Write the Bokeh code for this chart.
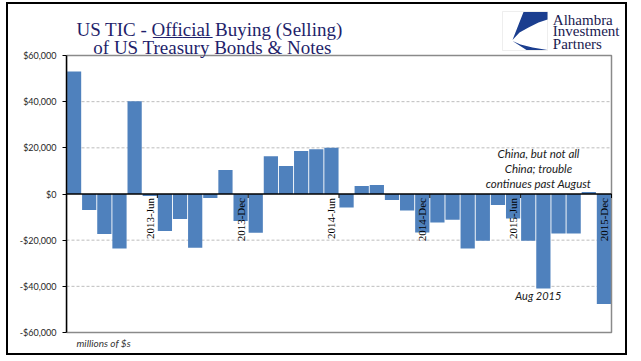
import math
from bokeh.plotting import figure
from bokeh.models import Range1d, FixedTicker, Label, PolyAnnotation
from bokeh.embed import file_html
from bokeh.resources import INLINE
from bokeh.core.properties import value

# ---- data ----
months = [f"{y}-{m}" for y in (2013, 2014, 2015)
          for m in ("Jan", "Feb", "Mar", "Apr", "May", "Jun",
                    "Jul", "Aug", "Sep", "Oct", "Nov", "Dec")]
values = [53100, -6900, -17300, -23600, 40200, -900, -16000, -10800, -23300, -1700,
          10400, -11700, -16800, 16400, 12100, 18600, 19400, 20000, -5900, 3450,
          3900, -2600, -7200, -16700, -12400, -11200, -23600, -20200, -4750, -10650,
          -20200, -40900, -17100, -17100, 860, -47700]
labeled_months = ["2013-Jun", "2013-Dec", "2014-Jun", "2014-Dec", "2015-Jun", "2015-Dec"]
y_ticks = [-60000, -40000, -20000, 0, 20000, 40000, 60000]
y_tick_labels = ["-$60,000", "-$40,000", "-$20,000", "$0", "$20,000", "$40,000", "$60,000"]
title_lines = ["US TIC - Official Buying (Selling)", "of US Treasury Bonds & Notes"]
logo_lines = ["Alhambra", "Investment", "Partners"]
note_lines = ["China, but not all", "China; trouble", "continues past August"]
aug_note = "Aug 2015"
units_note = "millions of $s"

idx = list(range(1, len(months) + 1))
lab_idx = [months.index(m) + 1 for m in labeled_months]
x0, x1 = 0.5, len(months) + 0.5
ymin, ymax = min(y_ticks), max(y_ticks)

# ---- layout geometry (page pixels) ----
OX, OY = 8, 4                               # canvas origin on the page
W, H = 617, 349
FL, FR, FT, FB = 66, OX + W, OY, OY + H     # frame edges
AL, AR, AT, AB = 66, 611, 55, 332           # plot-area edges
ppx = (x1 - x0) / (AR - AL)
ppy = (ymax - ymin) / (AB - AT)
xr = Range1d(x0, x1 + (FR - AR) * ppx)
yr = Range1d(ymin - (FB - AB) * ppy, ymax + (AT - FT) * ppy)

p = figure(width=W, height=H, output_backend="svg", toolbar_location=None,
           x_range=xr, y_range=yr, x_axis_location=None, title=None,
           min_border_left=FL - OX, min_border_right=0, min_border_top=0, min_border_bottom=0)
p.styles = {"margin-left": f"{OX}px", "margin-top": f"{OY}px",
            "outline": "2px solid black", "outline-offset": "0px"}
p.background_fill_color = "white"
p.border_fill_color = "white"
p.outline_line_color = None
p.grid.visible = False

ya = p.yaxis[0]
ya.ticker = FixedTicker(ticks=y_ticks)
ya.bounds = (ymin, ymax)
ya.major_label_overrides = {t: l for t, l in zip(y_ticks, y_tick_labels)}
ya.axis_line_color = "black"
ya.axis_line_width = 1.5
ya.major_tick_line_color = "black"
ya.major_tick_out = 4
ya.major_tick_in = 0
ya.minor_tick_out = 0
ya.minor_tick_in = 0
ya.major_label_standoff = 6
ya.major_label_text_font = "Lato"
ya.major_label_text_font_size = "9px"
ya.major_label_text_color = "#262626"

# dashed gridlines over the plot area only
grid_vals = [t for t in y_ticks if t not in (0, ymin, ymax)]
p.segment(x0=[x0] * len(grid_vals), x1=[x1] * len(grid_vals), y0=grid_vals, y1=grid_vals,
          line_color="#BDBDBD", line_dash="3 2", line_width=1)

p.vbar(x=idx, top=values, bottom=0, width=0.94, fill_color="#4F81BD", line_color=None)

# plot area border
p.quad(left=[x0], right=[x1], bottom=[ymin], top=[ymax], fill_alpha=0,
       line_color="#8A8A8A", line_width=1.5)

# zero line + category tick marks
p.segment(x0=[x0], x1=[x1], y0=[0], y1=[0], line_color="black", line_width=1.5)
bounds = [i + 0.5 for i in lab_idx]
p.segment(x0=bounds, y0=[0] * len(bounds), x1=bounds, y1=[-4 * ppy] * len(bounds),
          line_color="black", line_width=1)

p.text(x=lab_idx, y=[0] * len(lab_idx), text=labeled_months, angle=math.pi / 2,
       text_align="right", text_baseline="middle", y_offset=4,
       text_font=value("Liberation Serif"), text_font_size="11px", text_color="black")

# ---- annotations (screen units relative to frame bottom-left) ----
def sx(X):
    return X - FL

def sy(Y):
    return FB - Y

def lab(X, Y, text, font, size, color, align="left", baseline="alphabetic", style="normal"):
    p.add_layout(Label(x=sx(X), y=sy(Y), x_units="screen", y_units="screen", text=text,
                       text_font=font, text_font_size=size, text_color=color,
                       text_align=align, text_baseline=baseline, text_font_style=style))

navy = "#1F1F6B"
lab(209, 28.5, title_lines[0], "Liberation Serif", "19px", navy, align="center")
lab(212, 47.2, title_lines[1], "Liberation Serif", "19px", navy, align="center")
# underline under "Official"
lab(152.5, 28.5, "______", "Liberation Serif", "19.8px", navy)

for t, yy in zip(logo_lines, [19, 30.6, 43]):
    lab(552.3, yy, t, "Liberation Serif", "15px", "#1A1A50")

for t, yy in zip(note_lines, [152.8, 167.5, 182.5]):
    lab(538, yy, t, "Lato", "11.5px", "#1a1a1a", align="center", baseline="middle", style="italic")
lab(537.8, 294.5, aug_note, "Lato", "11px", "#1a1a1a", align="center", baseline="middle", style="italic")
lab(76, 342, units_note, "Lato", "10px", "#333333", baseline="middle", style="italic")

def poly(X, Y, **kw):
    p.add_layout(PolyAnnotation(xs=[sx(v) for v in X], ys=[sy(v) for v in Y],
                                xs_units="screen", ys_units="screen", **kw))

# logo box and its two blue wedges
poly([502, 547, 547, 502], [11, 11, 50, 50], fill_color="white", fill_alpha=1,
     line_color="#C8C8C8", line_width=1)
poly([523, 547, 547, 538, 528, 519, 512], [11.5, 11.5, 19, 22, 27, 32, 39.5],
     fill_color="#1B3E8F", fill_alpha=1, line_color=None)
poly([512, 520, 532, 547, 526], [40.5, 44, 47, 49.5, 49.5],
     fill_color="#1B3E8F", fill_alpha=1, line_color=None)

open("out.html", "w").write(file_html(p, INLINE))
